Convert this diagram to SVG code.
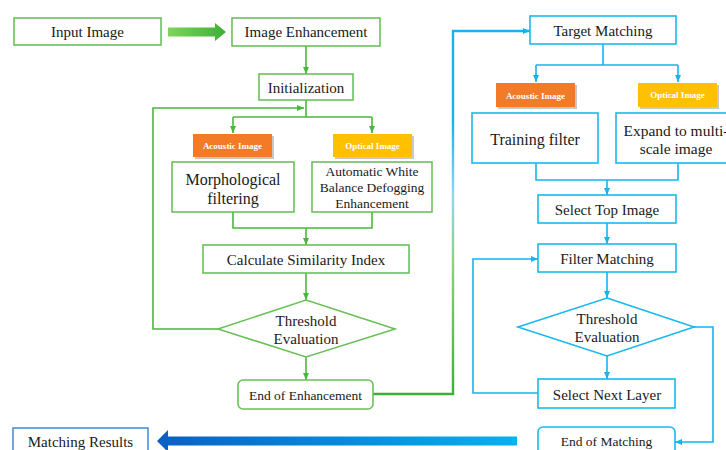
<svg xmlns="http://www.w3.org/2000/svg" width="726" height="450" viewBox="0 0 726 450" font-family="'Liberation Serif', 'DejaVu Serif', serif">
<style>
text{font-family:'Liberation Serif','DejaVu Serif',serif;fill:#1a1a1a;text-anchor:middle;dominant-baseline:central}
.t{font-size:15px}
.g{fill:#fff;stroke:#6cc05a;stroke-width:1.6}
.b{fill:#fff;stroke:#1ab8ef;stroke-width:1.6}
.gl{fill:none;stroke:#49b83a;stroke-width:1.6}
.bl{fill:none;stroke:#14b4f0;stroke-width:1.6}
.lab{font-size:9px;font-weight:bold;fill:#fff}
</style>
<defs>
<marker id="ag" markerWidth="8" markerHeight="8" refX="7" refY="4" orient="auto" markerUnits="userSpaceOnUse"><path d="M0,1 L7,4 L0,7 Z" fill="#49b83a"/></marker>
<marker id="ab" markerWidth="8" markerHeight="8" refX="7" refY="4" orient="auto" markerUnits="userSpaceOnUse"><path d="M0,1 L7,4 L0,7 Z" fill="#14b4f0"/></marker>
<linearGradient id="gArrow" x1="0" y1="0" x2="1" y2="0"><stop offset="0" stop-color="#7fd45c"/><stop offset="1" stop-color="#3cb034"/></linearGradient>
<linearGradient id="bArrow" gradientUnits="userSpaceOnUse" x1="157" y1="0" x2="517" y2="0"><stop offset="0" stop-color="#0b5fc2"/><stop offset="1" stop-color="#05b2ee"/></linearGradient>
<linearGradient id="gb" gradientUnits="userSpaceOnUse" x1="0" y1="394" x2="0" y2="31"><stop offset="0" stop-color="#3cb034"/><stop offset="0.35" stop-color="#8cd07a"/><stop offset="0.55" stop-color="#8fd6ee"/><stop offset="0.75" stop-color="#14b4f0"/><stop offset="1" stop-color="#14b4f0"/></linearGradient>
</defs>

<g id="connectors">
<path d="M168,27.5 H215 V23 L226,32 L215,41 V36.5 H168 Z" fill="url(#gArrow)"/>
<path d="M306,46 V74" class="gl" marker-end="url(#ag)"/>
<path d="M306,100 V117" class="gl"/>
<path d="M233,117 H372" class="gl"/>
<path d="M233,117 V133" class="gl" marker-end="url(#ag)"/>
<path d="M372,117 V133" class="gl" marker-end="url(#ag)"/>
<path d="M233,212 V228 H372 V212" class="gl"/>
<path d="M306,228 V245" class="gl" marker-end="url(#ag)"/>
<path d="M306,273 V300" class="gl" marker-end="url(#ag)"/>
<path d="M218,329 H153 V108 H304" class="gl" marker-end="url(#ag)"/>
<path d="M306,357 V380" class="gl" marker-end="url(#ag)"/>
<path d="M373,394 H453 V31 H530" fill="none" stroke="url(#gb)" stroke-width="2.4" marker-end="url(#ab)"/>
<path d="M603,44 V65" class="bl"/>
<path d="M536,65 H678" class="bl"/>
<path d="M536,65 V82" class="bl" marker-end="url(#ab)"/>
<path d="M678,65 V82" class="bl" marker-end="url(#ab)"/>
<path d="M536,163 V180 H678 V163" class="bl"/>
<path d="M607,180 V195" class="bl" marker-end="url(#ab)"/>
<path d="M607,223 V244" class="bl" marker-end="url(#ab)"/>
<path d="M607,272 V298" class="bl" marker-end="url(#ab)"/>
<path d="M607,356 V379" class="bl" marker-end="url(#ab)"/>
<path d="M538,393 H473 V259 H538" class="bl" marker-end="url(#ab)"/>
<path d="M694,327 H713 V442 H675" class="bl" marker-end="url(#ab)"/>
<path d="M517,436.5 H168 V430 L157,441 L168,452 V445.5 H517 Z" fill="url(#bArrow)"/>
</g>

<g id="input-image"><rect class="g" x="14" y="18" width="147" height="27"/><text class="t" x="87.5" y="32">Input Image</text></g>
<g id="image-enhancement"><rect class="g" x="232" y="18" width="148" height="28"/><text class="t" x="306" y="32">Image Enhancement</text></g>
<g id="initialization"><rect class="g" x="259" y="74" width="94" height="26"/><text class="t" x="306" y="87.5">Initialization</text></g>
<g id="acoustic-label-1"><rect x="195" y="136" width="79" height="23" fill="#c8c8c8"/><rect x="193" y="134" width="79" height="23" fill="#f37a26"/><text class="lab" x="232.5" y="145.5">Acoustic Image</text></g>
<g id="optical-label-1"><rect x="335" y="136" width="79" height="23" fill="#c8c8c8"/><rect x="333" y="134" width="79" height="23" fill="#ffc000"/><text class="lab" x="372.5" y="145.5">Optical Image</text></g>
<g id="morphological"><rect class="g" x="172" y="162" width="122" height="50"/><text x="233" y="179" font-size="16">Morphological</text><text x="233" y="198" font-size="16">filtering</text></g>
<g id="awb"><rect class="g" x="312" y="162" width="120" height="50"/><text x="372" y="171.5" font-size="13.5">Automatic White</text><text x="372" y="187.5" font-size="13.5">Balance Defogging</text><text x="372" y="203.5" font-size="13.5">Enhancement</text></g>
<g id="similarity"><rect class="g" x="203" y="245" width="206" height="28"/><text class="t" x="306" y="259.5">Calculate Similarity Index</text></g>
<g id="threshold-1"><polygon class="g" points="306,300 395,329 306,357 218,329"/><text class="t" x="306" y="321">Threshold</text><text class="t" x="306" y="339">Evaluation</text></g>
<g id="end-enhancement"><rect class="g" x="238" y="380" width="135" height="29" rx="5"/><text x="305.5" y="395" font-size="13.5">End of Enhancement</text></g>

<g id="target-matching"><rect class="b" x="530" y="16" width="146" height="28"/><text class="t" x="603" y="31">Target Matching</text></g>
<g id="acoustic-label-2"><rect x="498" y="85" width="79" height="24" fill="#c8c8c8"/><rect x="496" y="83" width="79" height="24" fill="#f37a26"/><text class="lab" x="535.5" y="96">Acoustic Image</text></g>
<g id="optical-label-2"><rect x="640" y="85" width="79" height="24" fill="#c8c8c8"/><rect x="638" y="83" width="79" height="24" fill="#ffc000"/><text class="lab" x="677.5" y="95">Optical Image</text></g>
<g id="training-filter"><rect class="b" x="472" y="113" width="126" height="50"/><text x="535" y="139" font-size="16">Training filter</text></g>
<g id="expand"><rect class="b" x="616" y="113" width="130" height="50"/><text x="676" y="130" font-size="15.5">Expand to multi-</text><text x="676" y="148" font-size="15.5">scale image</text></g>
<g id="select-top"><rect class="b" x="538" y="195" width="138" height="28"/><text class="t" x="607" y="210">Select Top Image</text></g>
<g id="filter-matching"><rect class="b" x="538" y="244" width="138" height="28"/><text class="t" x="607" y="259">Filter Matching</text></g>
<g id="threshold-2"><polygon class="b" points="607,298 694,327 607,356 518,327"/><text class="t" x="607" y="319">Threshold</text><text class="t" x="607" y="337">Evaluation</text></g>
<g id="select-next"><rect class="b" x="538" y="379" width="137" height="29"/><text class="t" x="607" y="394.5">Select Next Layer</text></g>
<g id="end-matching"><rect class="b" x="538" y="427" width="137" height="40" rx="5"/><text x="606.5" y="441.5" font-size="13.5">End of Matching</text></g>
<g id="matching-results"><rect fill="#fff" stroke="#4a90d9" stroke-width="1.6" x="13" y="428" width="135" height="40"/><text class="t" x="80.5" y="442">Matching Results</text></g>
</svg>
